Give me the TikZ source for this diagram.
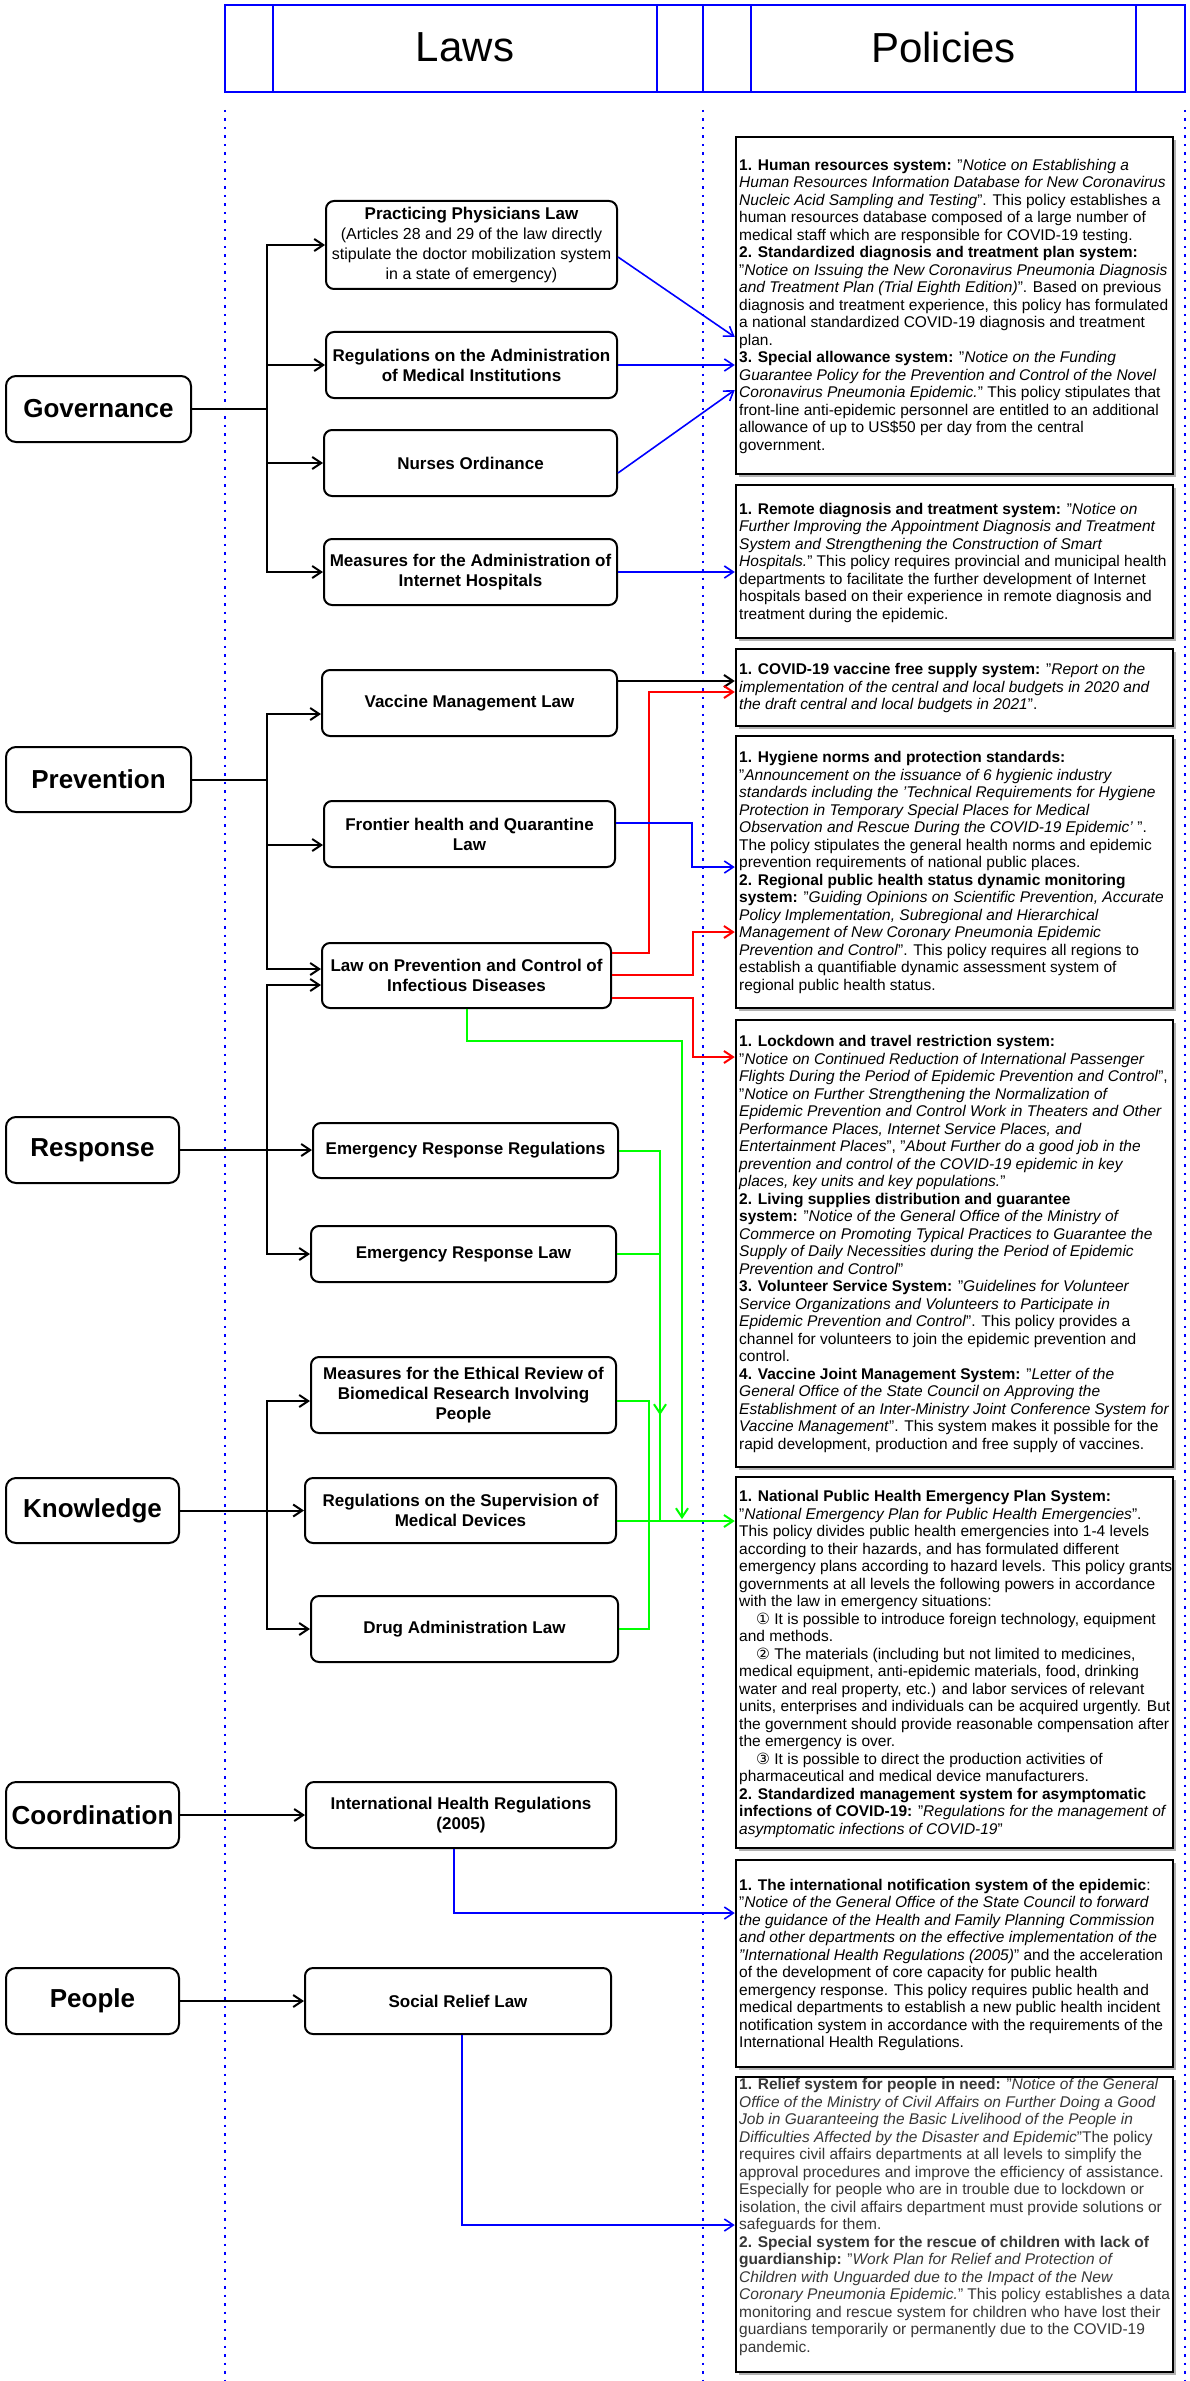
\documentclass[tikz,border=0pt]{standalone}
\usepackage{fontspec}
\setmainfont{Liberation Sans}
\newfontfamily\dejavu{DejaVu Sans}
\usetikzlibrary{arrows.meta,shadows}
\definecolor{hblue}{RGB}{0,0,255}
\definecolor{lred}{RGB}{255,0,0}
\definecolor{lgreen}{RGB}{0,255,0}
\definecolor{ptgray}{RGB}{55,55,55}
\begin{document}
\begin{tikzpicture}[x=1pt,y=-1pt,
  cat/.style={draw, line width=2pt, rounded corners=10pt, inner sep=0pt,
    font=\bfseries\fontsize{26}{30}\selectfont},
  law/.style={draw, line width=2pt, rounded corners=8pt, inner sep=0pt, align=center,
    font=\bfseries\fontsize{17}{20}\selectfont},
  pol/.style={draw, line width=2.5pt, fill=white, inner sep=0pt,
    drop shadow={shadow xshift=3pt, shadow yshift=-3pt, fill=black!30, opacity=1}},
  ptext/.style={anchor=west, align=left, inner sep=0pt,
    font=\fontsize{15.5}{17.5}\selectfont},
  hdrline/.style={draw=hblue, line width=2pt},
  hdrtext/.style={inner sep=0pt, font=\fontsize{42}{48}\selectfont},
  dotline/.style={draw=hblue, line width=2pt, dash pattern=on 2.5pt off 6pt},
  tip/.style={-{Straight Barb[length=9pt,width=12pt]}},
  blk/.style={line width=2pt, tip},
  bl/.style={draw=hblue, line width=1.6pt, tip},
  rd/.style={draw=lred, line width=2pt, tip},
  gr/.style={draw=lgreen, line width=2pt},
  grA/.style={draw=lgreen, line width=2pt, tip}
]
\useasboundingbox (0,0) rectangle (1190,2381);
\fill[white] (0,0) rectangle (1190,2381);

% header
\draw[hdrline] (225,5) rectangle (1185,92);
\foreach \xx in {273,657,703,751,1136} \draw[hdrline, line width=1.5pt] (\xx,5) -- (\xx,92);
\node[hdrtext] (laws) at (465,47.5) {Laws};
\node[hdrtext] (pols) at (943.5,47.5) {Policies};

% dotted lane lines
\draw[dotline] (225,110) -- (225,2381);
\draw[dotline] (703,110) -- (703,2381);
\draw[dotline] (1185,110) -- (1185,2381);

% categories
\node[cat, minimum width=185pt, minimum height=66pt] (gov) at (98.5,409) {Governance};
\node[cat, minimum width=185pt, minimum height=65pt] (prev) at (98.5,779.5) {Prevention};
\node[cat, minimum width=173pt, minimum height=66pt] (resp) at (92.5,1150) {Response};
\node[cat, minimum width=173pt, minimum height=65pt] (know) at (92.5,1510.5) {Knowledge};
\node[cat, minimum width=173pt, minimum height=66pt] (coor) at (92.5,1815) {Coordination};
\node[cat, minimum width=173pt, minimum height=66pt] (peop) at (92.5,2001) {People};

% laws
\node[law, minimum width=291pt, minimum height=88pt] (l1) at (471.5,245)
  {Practicing Physicians Law\\ {\mdseries\fontsize{16}{20}\selectfont (Articles 28 and 29 of the law directly}\\
   {\mdseries\fontsize{16}{20}\selectfont stipulate the doctor mobilization system}\\
   {\mdseries\fontsize{16}{20}\selectfont in a state of emergency)}};
\node[law, minimum width=291pt, minimum height=66pt] (l2) at (471.5,365) {Regulations on the Administration\\ of Medical Institutions};
\node[law, minimum width=293pt, minimum height=66pt] (l3) at (470.5,463) {Nurses Ordinance};
\node[law, minimum width=293pt, minimum height=66pt] (l4) at (470.5,572) {Measures for the Administration of\\ Internet Hospitals};
\node[law, minimum width=295pt, minimum height=66pt] (l5) at (469.5,703) {Vaccine Management Law};
\node[law, minimum width=291pt, minimum height=66pt] (l6) at (469.5,834) {Frontier health and Quarantine\\ Law};
\node[law, minimum width=289pt, minimum height=65pt] (l7) at (466.5,975.5) {Law on Prevention and Control of\\ Infectious Diseases};
\node[law, minimum width=305pt, minimum height=55pt] (l8) at (465.5,1150.5) {Emergency Response Regulations};
\node[law, minimum width=305pt, minimum height=56pt] (l9) at (463.5,1254) {Emergency Response Law};
\node[law, minimum width=305pt, minimum height=76pt] (l10) at (463.5,1395) {Measures for the Ethical Review of\\ Biomedical Research Involving\\ People};
\node[law, minimum width=311pt, minimum height=65pt] (l11) at (460.5,1510.5) {Regulations on the Supervision of\\ Medical Devices};
\node[law, minimum width=307pt, minimum height=66pt] (l12) at (464.5,1629) {Drug Administration Law};
\node[law, minimum width=310pt, minimum height=66pt] (l13) at (461,1815) {International Health Regulations\\ (2005)};
\node[law, minimum width=306pt, minimum height=66pt] (l14) at (458,2001) {Social Relief Law};

% policy boxes
\node[pol, minimum width=437pt, minimum height=337pt] (p1) at (954.5,305.5) {};
\node[pol, minimum width=437pt, minimum height=153pt] (p2) at (954.5,561.5) {};
\node[pol, minimum width=437pt, minimum height=77pt] (p3) at (954.5,687.5) {};
\node[pol, minimum width=437pt, minimum height=272pt] (p4) at (954.5,872) {};
\node[pol, minimum width=437pt, minimum height=447pt] (p5) at (954.5,1243.5) {};
\node[pol, minimum width=437pt, minimum height=371pt] (p6) at (954.5,1662.5) {};
\node[pol, minimum width=437pt, minimum height=207pt] (p7) at (954.5,1963.5) {};
\node[pol, minimum width=437pt, minimum height=295pt] (p8) at (954.5,2224.5) {};

\node[ptext] (t1) at (739,306) {%
\textbf{1. Human resources system:} "\textit{Notice on Establishing a}\\
\textit{Human Resources Information Database for New Coronavirus}\\
\textit{Nucleic Acid Sampling and Testing}". This policy establishes a\\
human resources database composed of a large number of\\
medical staff which are responsible for COVID-19 testing.\\
\textbf{2. Standardized diagnosis and treatment plan system:}\\
"\textit{Notice on Issuing the New Coronavirus Pneumonia Diagnosis}\\
\textit{and Treatment Plan (Trial Eighth Edition)}". Based on previous\\
diagnosis and treatment experience, this policy has formulated\\
a national standardized COVID-19 diagnosis and treatment\\
plan.\\
\textbf{3. Special allowance system:} "\textit{Notice on the Funding}\\
\textit{Guarantee Policy for the Prevention and Control of the Novel}\\
\textit{Coronavirus Pneumonia Epidemic.}" This policy stipulates that\\
front-line anti-epidemic personnel are entitled to an additional\\
allowance of up to US\$50 per day from the central\\
government.};

\node[ptext] (t2) at (739,562.5) {%
\textbf{1. Remote diagnosis and treatment system:} "\textit{Notice on}\\
\textit{Further Improving the Appointment Diagnosis and Treatment}\\
\textit{System and Strengthening the Construction of Smart}\\
\textit{Hospitals.}" This policy requires provincial and municipal health\\
departments to facilitate the further development of Internet\\
hospitals based on their experience in remote diagnosis and\\
treatment during the epidemic.};

\node[ptext] (t3) at (739,688) {%
\textbf{1. COVID-19 vaccine free supply system:} "\textit{Report on the}\\
\textit{implementation of the central and local budgets in 2020 and}\\
\textit{the draft central and local budgets in 2021}".};

\node[ptext] (t4) at (739,872.5) {%
\textbf{1. Hygiene norms and protection standards:}\\
"\textit{Announcement on the issuance of 6 hygienic industry}\\
\textit{standards including the 'Technical Requirements for Hygiene}\\
\textit{Protection in Temporary Special Places for Medical}\\
\textit{Observation and Rescue During the COVID-19 Epidemic'} ".\\
The policy stipulates the general health norms and epidemic\\
prevention requirements of national public places.\\
\textbf{2. Regional public health status dynamic monitoring}\\
\textbf{system:} "\textit{Guiding Opinions on Scientific Prevention, Accurate}\\
\textit{Policy Implementation, Subregional and Hierarchical}\\
\textit{Management of New Coronary Pneumonia Epidemic}\\
\textit{Prevention and Control}". This policy requires all regions to\\
establish a quantifiable dynamic assessment system of\\
regional public health status.};

\node[ptext] (t5) at (739,1244) {%
\textbf{1. Lockdown and travel restriction system:}\\
"\textit{Notice on Continued Reduction of International Passenger}\\
\textit{Flights During the Period of Epidemic Prevention and Control}",\\
"\textit{Notice on Further Strengthening the Normalization of}\\
\textit{Epidemic Prevention and Control Work in Theaters and Other}\\
\textit{Performance Places, Internet Service Places, and}\\
\textit{Entertainment Places}", "\textit{About Further do a good job in the}\\
\textit{prevention and control of the COVID-19 epidemic in key}\\
\textit{places, key units and key populations.}"\\
\textbf{2. Living supplies distribution and guarantee}\\
\textbf{system:} "\textit{Notice of the General Office of the Ministry of}\\
\textit{Commerce on Promoting Typical Practices to Guarantee the}\\
\textit{Supply of Daily Necessities during the Period of Epidemic}\\
\textit{Prevention and Control}"\\
\textbf{3. Volunteer Service System:} "\textit{Guidelines for Volunteer}\\
\textit{Service Organizations and Volunteers to Participate in}\\
\textit{Epidemic Prevention and Control}". This policy provides a\\
channel for volunteers to join the epidemic prevention and\\
control.\\
\textbf{4. Vaccine Joint Management System:} "\textit{Letter of the}\\
\textit{General Office of the State Council on Approving the}\\
\textit{Establishment of an Inter-Ministry Joint Conference System for}\\
\textit{Vaccine Management}". This system makes it possible for the\\
rapid development, production and free supply of vaccines.};

\node[ptext] (t6) at (739,1664) {%
\textbf{1. National Public Health Emergency Plan System:}\\
"\textit{National Emergency Plan for Public Health Emergencies}".\\
This policy divides public health emergencies into 1-4 levels\\
according to their hazards, and has formulated different\\
emergency plans according to hazard levels. This policy grants\\
governments at all levels the following powers in accordance\\
with the law in emergency situations:\\
\hspace*{17pt}{\dejavu ①} It is possible to introduce foreign technology, equipment\\
and methods.\\
\hspace*{17pt}{\dejavu ②} The materials (including but not limited to medicines,\\
medical equipment, anti-epidemic materials, food, drinking\\
water and real property, etc.) and labor services of relevant\\
units, enterprises and individuals can be acquired urgently. But\\
the government should provide reasonable compensation after\\
the emergency is over.\\
\hspace*{17pt}{\dejavu ③} It is possible to direct the production activities of\\
pharmaceutical and medical device manufacturers.\\
\textbf{2. Standardized management system for asymptomatic}\\
\textbf{infections of COVID-19:} "\textit{Regulations for the management of}\\
\textit{asymptomatic infections of COVID-19}"};

\node[ptext] (t7) at (739,1965) {%
\textbf{1. The international notification system of the epidemic}:\\
"\textit{Notice of the General Office of the State Council to forward}\\
\textit{the guidance of the Health and Family Planning Commission}\\
\textit{and other departments on the effective implementation of the}\\
\textit{"International Health Regulations (2005)}" and the acceleration\\
of the development of core capacity for public health\\
emergency response. This policy requires public health and\\
medical departments to establish a new public health incident\\
notification system in accordance with the requirements of the\\
International Health Regulations.};

\node[ptext, text=ptgray] (t8) at (739,2217) {%
\textbf{1. Relief system for people in need:} "\textit{Notice of the General}\\
\textit{Office of the Ministry of Civil Affairs on Further Doing a Good}\\
\textit{Job in Guaranteeing the Basic Livelihood of the People in}\\
\textit{Difficulties Affected by the Disaster and Epidemic}"The policy\\
requires civil affairs departments at all levels to simplify the\\
approval procedures and improve the efficiency of assistance.\\
Especially for people who are in trouble due to lockdown or\\
isolation, the civil affairs department must provide solutions or\\
safeguards for them.\\
\textbf{2. Special system for the rescue of children with lack of}\\
\textbf{guardianship:} "\textit{Work Plan for Relief and Protection of}\\
\textit{Children with Unguarded due to the Impact of the New}\\
\textit{Coronary Pneumonia Epidemic.}" This policy establishes a data\\
monitoring and rescue system for children who have lost their\\
guardians temporarily or permanently due to the COVID-19\\
pandemic.};

% trunk coordinate
\coordinate (tr) at (267,0);

% category -> law connectors
\draw[blk] (gov.east) -- (tr |- gov.east) |- (l1.west);
\draw[blk] (gov.east) -- (tr |- gov.east) |- (l2.west);
\draw[blk] (gov.east) -- (tr |- gov.east) |- (l3.west);
\draw[blk] (gov.east) -- (tr |- gov.east) |- (l4.west);

\draw[blk] (prev.east) -- (tr |- prev.east) |- (l5.west |- 0,714);
\draw[blk] (prev.east) -- (tr |- prev.east) |- (l6.west |- 0,845);
\draw[blk] (prev.east) -- (tr |- prev.east) |- (l7.west |- 0,969);

\draw[blk] (resp.east) -- (tr |- resp.east) |- (l7.west |- 0,985);
\draw[blk] (resp.east) -- (l8.west |- resp.east);
\draw[blk] (resp.east) -- (tr |- resp.east) |- (l9.west);

\draw[blk] (know.east) -- (tr |- know.east) |- (l10.west |- 0,1401);
\draw[blk] (know.east) -- (l11.west |- know.east);
\draw[blk] (know.east) -- (tr |- know.east) |- (l12.west);

\draw[blk] (coor.east) -- (l13.west);
\draw[blk] (peop.east) -- (l14.west);

% law -> policy connectors
\draw[bl] (l1.east |- 0,257) -- (p1.west |- 0,337);
\draw[bl] (l2.east) -- (p1.west |- l2.east);
\draw[bl] (l3.east |- 0,473) -- (p1.west |- 0,390);
\draw[bl] (l4.east) -- (p2.west |- l4.east);

\draw[blk] (l5.east |- 0,681) -- (p3.west |- 0,681);
\draw[rd] (l7.east |- 0,953) -| (649,692) -- (p3.west |- 0,692);
\draw[bl] (l6.east |- 0,823) -| (692,867) -- (p4.west |- 0,867);
\draw[rd] (l7.east |- 0,975) -| (693,932) -- (p4.west |- 0,932);
\draw[rd] (l7.east |- 0,998) -| (693,1057) -- (p5.west |- 0,1057);

\draw[grA] (l7.south) |- (682,1041) -- (682,1519);
\draw[grA] (l8.east) -| (660,1415);
\draw[gr] (l9.east) -| (660,1521);
\draw[gr] (l10.east |- 0,1401) -| (649,1521) |- (l12.east);
\draw[grA] (l11.east |- 0,1521) -- (p6.west |- 0,1521);

\draw[bl] ([xshift=-7pt]l13.south) |- (p7.west |- 0,1913);
\draw[bl] ([xshift=4pt]l14.south) |- (p8.west |- 0,2225);
\end{tikzpicture}
\end{document}
